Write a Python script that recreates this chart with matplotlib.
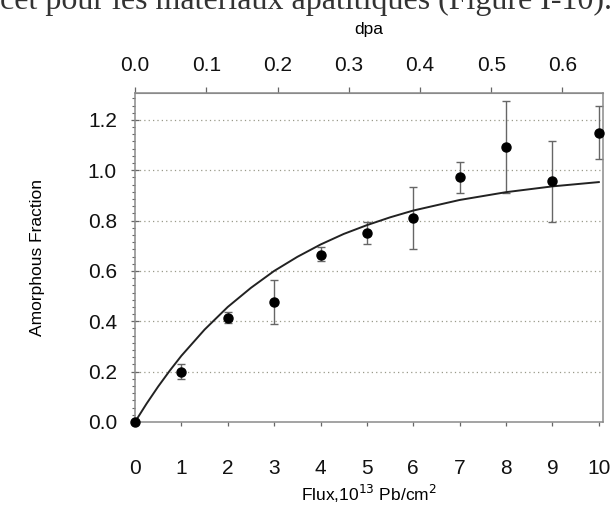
import matplotlib
matplotlib.use('Agg')
import matplotlib.pyplot as plt
from matplotlib.ticker import AutoMinorLocator

# measured points
flux = [0, 1, 2, 3, 4, 5, 6, 7, 8, 9, 10]
frac = [0.0, 0.20, 0.415, 0.475, 0.665, 0.752, 0.811, 0.972, 1.093, 0.958, 1.149]
err_low = [0.0, 0.03, 0.02, 0.085, 0.025, 0.045, 0.122, 0.062, 0.183, 0.163, 0.104]
err_high = [0.0, 0.03, 0.02, 0.09, 0.03, 0.043, 0.121, 0.061, 0.183, 0.158, 0.106]

# fit curve
fit_x = [0, 0.25, 0.5, 0.75, 1, 1.5, 2, 2.5, 3, 3.5, 4, 4.5, 5, 5.5, 6, 7, 8, 9, 10]
fit_y = [0.0, 0.073, 0.141, 0.204, 0.263, 0.367, 0.457, 0.533, 0.600, 0.656,
         0.705, 0.747, 0.782, 0.813, 0.840, 0.882, 0.913, 0.936, 0.953]

dpa_per_flux = 0.0651
dpa_ticks = [0.0, 0.1, 0.2, 0.3, 0.4, 0.5, 0.6]
y_ticks = [0.0, 0.2, 0.4, 0.6, 0.8, 1.0, 1.2]

plt.rcParams['font.family'] = ['Liberation Sans', 'DejaVu Sans']

fig = plt.figure(figsize=(6.12, 5.07), dpi=100)
ax = fig.add_axes([0.2206, 0.1677, 0.7647, 0.6489])

# dotted grid
for yv in y_ticks[1:]:
    ax.axhline(yv, color='#9a9a8a', linestyle=(0, (1, 2.5)), linewidth=0.9, zorder=1)

ax.plot(fit_x, fit_y, color='#222222', linewidth=1.4, zorder=3)
ax.errorbar(flux, frac, yerr=[err_low, err_high], fmt='none', ecolor='#666666',
            elinewidth=1.0, capsize=3, capthick=1.0, zorder=2)
ax.plot(flux, frac, 'o', color='black', markersize=6.5, zorder=4, clip_on=False)

ax.set_xlim(0, 10.09)
ax.set_ylim(0, 1.307)
ax.set_xticks(flux)
ax.set_yticks(y_ticks)
ax.yaxis.set_minor_locator(AutoMinorLocator(7))
ax.yaxis.set_major_formatter(plt.FuncFormatter(lambda v, p: '%.1f' % v))

for s in ax.spines.values():
    s.set_color('#8a8a8a')
    s.set_linewidth(1.1)

ax.tick_params(axis='x', which='major', direction='out', length=3, width=0.9,
               color='#666666', labelsize=15, labelcolor='#111111', pad=24)
ax.tick_params(axis='y', which='major', direction='inout', length=6, width=0.9,
               color='#666666', labelsize=15, labelcolor='#111111', pad=10)
ax.tick_params(axis='y', which='minor', direction='out', length=2, width=0.8,
               color='#666666')

ax.set_xlabel('Flux,10$^{13}$ Pb/cm$^{2}$', fontsize=12.5, labelpad=3)
ax.set_ylabel('Amorphous Fraction', fontsize=12.5, labelpad=31)

top = ax.secondary_xaxis('top', functions=(lambda x: x * dpa_per_flux,
                                           lambda d: d / dpa_per_flux))
top.set_xticks(dpa_ticks)
top.xaxis.set_major_formatter(plt.FuncFormatter(lambda v, p: '%.1f' % v))
top.tick_params(direction='out', length=4, width=0.9, color='#666666',
                labelsize=15, labelcolor='#111111', pad=9)
top.spines['top'].set_color('#8a8a8a')
top.set_xlabel('dpa', fontsize=12.5, labelpad=16)

# clipped line of the surrounding page text
fig.text(0.0, 1 - 9 / 507, 'cet pour les matériaux apatitiques (Figure I-10).',
         fontsize=23, family='Liberation Serif', color='#333333',
         ha='left', va='baseline')

fig.savefig('out.png', dpi=100)
